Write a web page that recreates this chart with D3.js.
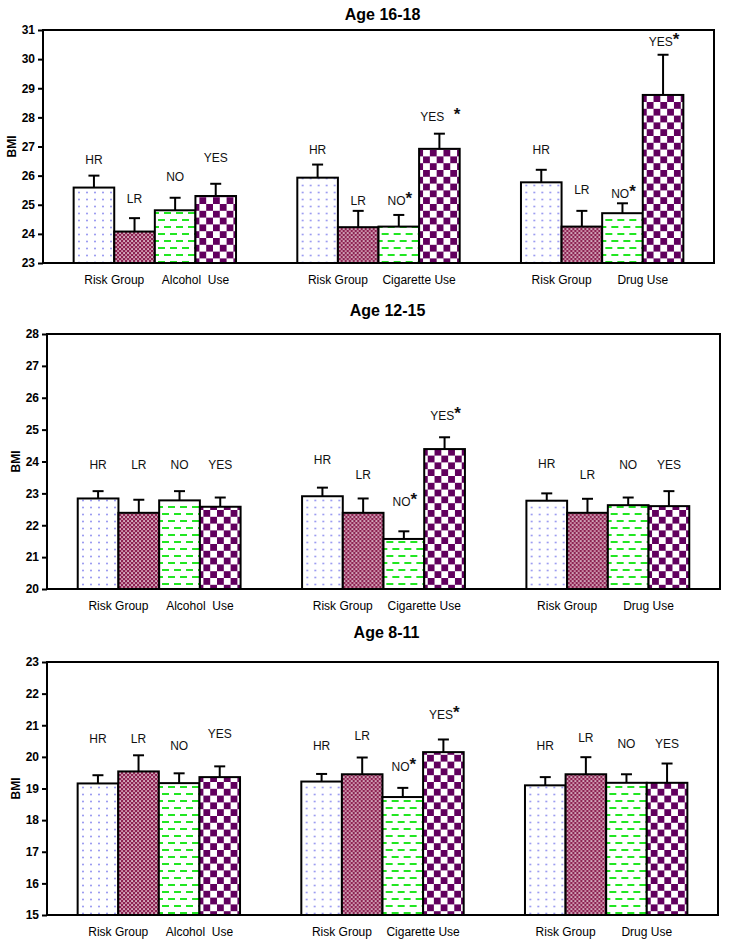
<!DOCTYPE html>
<html>
<head>
<meta charset="utf-8">
<script src="https://cdn.jsdelivr.net/npm/d3@7"></script>
<style>
  html, body { margin: 0; padding: 0; background: #fff; }
  svg { display: block; font-family: "Liberation Sans", Arial, sans-serif; }
</style>
</head>
<body>
<svg id="chart" width="729" height="947"></svg>
<script>
// ---------------- DATA ----------------
const seriesKeys = ["HR", "LR", "NO", "YES"];
const groupKeys = ["Alcohol", "Cigarette", "Drug"];
const riskLabel = "Risk Group";
const useLabels = ["Alcohol\u00a0 Use", "Cigarette Use", "Drug Use"];
const ageTitles = ["Age 16-18", "Age 12-15", "Age 8-11"];

const yDomain16 = [23, 31];
const yDomain12 = [20, 28];
const yDomain8 = [15, 23];

// Age 16-18: mean BMI per group (rows) and series HR, LR, NO, YES (cols)
const mean16 = [[25.59, 24.08, 24.81, 25.30], [25.93, 24.23, 24.25, 26.92], [25.77, 24.25, 24.71, 28.77]];
const se16   = [[0.41, 0.46, 0.43, 0.42], [0.45, 0.56, 0.40, 0.52], [0.43, 0.54, 0.34, 1.38]];
const labelAt16 = [[26.54, 25.20, 25.96, 26.60], [26.88, 25.14, 25.13, 28.03], [26.88, 25.53, 25.39, 30.60]];
const sig16 = [["", "", "", ""], ["", "", "*", " *"], ["", "", "*", "*"]];

// Age 12-15
const mean12 = [[22.84, 22.39, 22.78, 22.58], [22.91, 22.39, 21.57, 24.39], [22.77, 22.39, 22.63, 22.60]];
const se12   = [[0.23, 0.41, 0.29, 0.29], [0.27, 0.45, 0.24, 0.37], [0.23, 0.44, 0.24, 0.47]];
const labelAt12 = [[23.89, 23.89, 23.89, 23.89], [24.07, 23.58, 22.74, 25.44], [23.94, 23.58, 23.89, 23.89]];
const sig12 = [["", "", "", ""], ["", "", "*", "*"], ["", "", "", ""]];

// Age 8-11
const mean8 = [[19.16, 19.54, 19.17, 19.36], [19.22, 19.45, 18.73, 20.15], [19.10, 19.45, 19.18, 19.18]];
const se8   = [[0.26, 0.51, 0.31, 0.34], [0.24, 0.53, 0.29, 0.40], [0.26, 0.54, 0.27, 0.61]];
const labelAt8 = [[20.59, 20.59, 20.34, 20.73], [20.35, 20.68, 19.70, 21.33], [20.34, 20.60, 20.43, 20.43]];
const sig8 = [["", "", "", ""], ["", "", "*", "*"], ["", "", "", ""]];

// ---------------- LAYOUT ----------------
const svg = d3.select("#chart");
const defs = svg.append("defs");

// patterns
const pHR = defs.append("pattern").attr("id", "pHR").attr("patternUnits", "userSpaceOnUse")
  .attr("width", 8).attr("height", 7);
pHR.append("rect").attr("width", 8).attr("height", 7).attr("fill", "#fff");
pHR.append("circle").attr("cx", 4).attr("cy", 3.5).attr("r", 0.95).attr("fill", "#8f8ff0");

const pLR = defs.append("pattern").attr("id", "pLR").attr("patternUnits", "userSpaceOnUse")
  .attr("width", 4).attr("height", 4);
pLR.append("rect").attr("width", 4).attr("height", 4).attr("fill", "#8c2352");
pLR.append("rect").attr("x", 0.3).attr("y", 0.3).attr("width", 1.5).attr("height", 1.5).attr("fill", "#fff");
pLR.append("rect").attr("x", 2.3).attr("y", 2.3).attr("width", 1.5).attr("height", 1.5).attr("fill", "#f4d0de");

const pNO = defs.append("pattern").attr("id", "pNO").attr("patternUnits", "userSpaceOnUse")
  .attr("width", 12).attr("height", 14);
pNO.append("rect").attr("width", 12).attr("height", 14).attr("fill", "#fff");
pNO.append("rect").attr("x", 1).attr("y", 2).attr("width", 7).attr("height", 2).attr("fill", "#22e622");
pNO.append("rect").attr("x", 7).attr("y", 9).attr("width", 5).attr("height", 2).attr("fill", "#22e622");
pNO.append("rect").attr("x", 0).attr("y", 9).attr("width", 2).attr("height", 2).attr("fill", "#22e622");

const sq = 6.8;
const pYES = defs.append("pattern").attr("id", "pYES").attr("patternUnits", "userSpaceOnUse")
  .attr("width", sq * 2).attr("height", sq * 2);
pYES.append("rect").attr("width", sq * 2).attr("height", sq * 2).attr("fill", "#fff");
pYES.append("rect").attr("width", sq).attr("height", sq).attr("fill", "#62005e");
pYES.append("rect").attr("x", sq).attr("y", sq).attr("width", sq).attr("height", sq).attr("fill", "#62005e");

const fills = { HR: "url(#pHR)", LR: "url(#pLR)", NO: "url(#pNO)", YES: "url(#pYES)" };

const panelDefs = [
  { title: ageTitles[0], domain: yDomain16, mean: mean16, se: se16, lab: labelAt16, sig: sig16,
    left: 43, right: 714, top: 30, bottom: 263, titleY: 20 },
  { title: ageTitles[1], domain: yDomain12, mean: mean12, se: se12, lab: labelAt12, sig: sig12,
    left: 47, right: 720, top: 334, bottom: 589, titleY: 316 },
  { title: ageTitles[2], domain: yDomain8, mean: mean8, se: se8, lab: labelAt8, sig: sig8,
    left: 47, right: 718, top: 662, bottom: 915, titleY: 638 }
];

panelDefs.forEach(p => {
  const g = svg.append("g");
  const y = d3.scaleLinear().domain(p.domain).range([p.bottom, p.top]);
  const x0 = d3.scaleBand().domain(groupKeys).range([p.left, p.right]).padding(0);
  const bw = x0.bandwidth();
  const x1 = d3.scaleBand().domain(seriesKeys).range([bw * 0.137, bw * 0.863]).padding(0);

  // title
  g.append("text").attr("x", (p.left + p.right) / 2 + 4).attr("y", p.titleY)
    .attr("text-anchor", "middle").attr("font-weight", "bold").attr("font-size", 16)
    .text(p.title);

  // y axis
  const ticks = d3.range(p.domain[0], p.domain[1] + 1);
  const ax = g.append("g").attr("transform", `translate(${p.left},0)`)
    .call(d3.axisLeft(y).tickValues(ticks).tickFormat(d3.format("d")).tickSize(5).tickPadding(3));
  ax.select(".domain").remove();
  ax.selectAll(".tick line").attr("stroke", "#000").attr("stroke-width", 2);
  ax.selectAll(".tick text").attr("font-size", 12).attr("font-weight", "bold")
    .attr("font-family", "Liberation Sans, Arial, sans-serif").attr("fill", "#000");

  // y label
  g.append("text")
    .attr("transform", `translate(${p.left - 27},${(p.top + p.bottom) / 2}) rotate(-90)`)
    .attr("text-anchor", "middle").attr("font-weight", "bold").attr("font-size", 12)
    .text("BMI");

  // bars
  groupKeys.forEach((gk, gi) => {
    const gg = g.append("g").attr("transform", `translate(${x0(gk)},0)`);
    const rows = seriesKeys.map((k, si) => ({
      key: k, mean: p.mean[gi][si], se: p.se[gi][si], lab: p.lab[gi][si], sig: p.sig[gi][si]
    }));
    gg.selectAll("rect.bar").data(rows).join("rect").attr("class", "bar")
      .attr("x", d => x1(d.key)).attr("width", x1.bandwidth())
      .attr("y", d => y(d.mean)).attr("height", d => p.bottom - y(d.mean))
      .attr("fill", d => fills[d.key]).attr("stroke", "#000").attr("stroke-width", 2);

    // error bars (upper only)
    const cx = d => x1(d.key) + x1.bandwidth() / 2;
    gg.selectAll("line.err").data(rows).join("line").attr("class", "err")
      .attr("x1", cx).attr("x2", cx)
      .attr("y1", d => y(d.mean)).attr("y2", d => y(d.mean + d.se))
      .attr("stroke", "#000").attr("stroke-width", 2);
    gg.selectAll("line.cap").data(rows).join("line").attr("class", "cap")
      .attr("x1", d => cx(d) - 5.5).attr("x2", d => cx(d) + 5.5)
      .attr("y1", d => y(d.mean + d.se)).attr("y2", d => y(d.mean + d.se))
      .attr("stroke", "#000").attr("stroke-width", 2);

    // labels
    const t = gg.selectAll("text.lab").data(rows).join("text").attr("class", "lab")
      .attr("x", d => cx(d) + (d.sig ? 1 : 0)).attr("y", d => y(d.lab)).attr("dy", "0.36em")
      .attr("text-anchor", "middle").attr("font-size", 12).attr("fill", "#111");
    t.append("tspan").text(d => d.key);
    t.filter(d => d.sig).append("tspan")
      .attr("font-size", 17).attr("font-weight", "bold").attr("dy", -1)
      .text(d => d.sig.replace(" ", "\u00a0\u00a0"));

    // category labels
    gg.append("text").attr("x", x1("LR")).attr("y", p.bottom + 21)
      .attr("text-anchor", "middle").attr("font-size", 12).text(riskLabel);
    gg.append("text").attr("x", x1("YES")).attr("y", p.bottom + 21)
      .attr("text-anchor", "middle").attr("font-size", 12).text(useLabels[gi]);
  });

  // frame
  g.append("rect").attr("x", p.left).attr("y", p.top)
    .attr("width", p.right - p.left).attr("height", p.bottom - p.top)
    .attr("fill", "none").attr("stroke", "#000").attr("stroke-width", 2);
});
</script>
</body>
</html>
